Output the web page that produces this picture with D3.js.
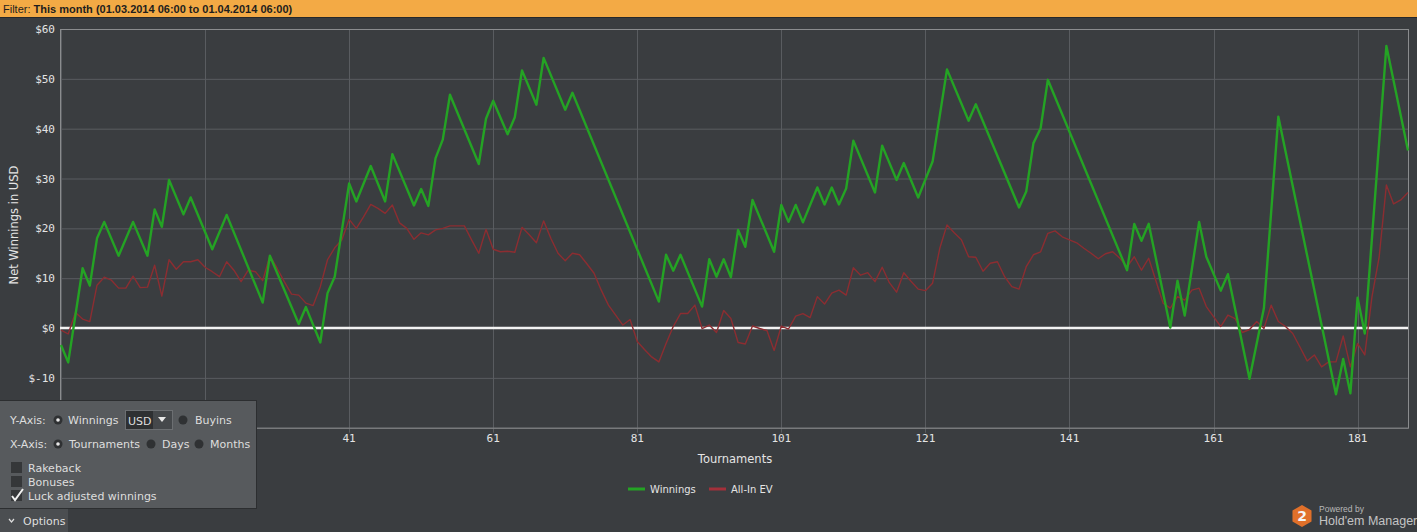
<!DOCTYPE html>
<html>
<head>
<meta charset="utf-8">
<script src="https://cdn.jsdelivr.net/npm/d3@7"></script>
<style>
  body { margin: 0; background: #3a3d40; overflow: hidden; }
  svg { display: block; }
</style>
</head>
<body>
<svg id="chart"></svg>
<script>
// Data
// Winnings: only the corner points of the green line (tournament, USD)
const winTournament = [1, 2, 4, 5, 6, 7, 9, 11, 13, 14, 15, 16, 18, 19, 22, 24, 29, 30, 34, 35, 37, 38, 39,
  41, 42, 44, 46, 47, 50, 51, 52, 53, 54, 55, 59, 60, 61, 63, 64, 65, 67, 68, 71, 72,
  84, 85, 86, 87, 90, 91, 92, 93, 94, 95, 96, 97, 100, 101, 102, 103, 104, 106, 107, 108, 109, 110,
  111, 114, 115, 117, 118, 120, 122, 124, 127, 128, 134, 135, 136, 137, 138,
  149, 150, 151, 152, 155, 156, 157, 159, 160, 162, 163, 166, 168, 170,
  178, 179, 180, 181, 182, 185, 188];
const winValue = [-3.4, -6.9, 12.0, 8.5, 18.0, 21.3, 14.5, 21.3, 14.5, 23.8, 20.3, 29.7, 22.8, 26.2, 15.8, 22.7, 5.1, 14.5, 0.8, 4.2, -2.9, 7.0, 10.3,
  29.0, 25.4, 32.5, 25.4, 34.9, 24.6, 27.9, 24.5, 34.1, 37.8, 46.8, 32.9, 42.0, 45.6, 38.9, 42.3, 51.7, 44.8, 54.2, 43.8, 47.2,
  5.3, 14.7, 11.5, 14.7, 4.3, 13.8, 10.3, 13.8, 10.2, 19.7, 16.3, 25.7, 15.3, 24.7, 21.3, 24.7, 21.2, 28.2, 24.8, 28.2, 24.8, 28.0,
  37.6, 27.2, 36.6, 29.7, 33.1, 26.2, 33.4, 51.9, 41.6, 44.9, 24.2, 27.4, 37.1, 40.1, 49.8,
  11.6, 20.9, 17.5, 20.9, 0.1, 9.5, 2.5, 21.3, 14.3, 7.5, 10.8, -10.2, 4.0, 42.4,
  -13.3, -6.2, -13.1, 6.1, -1.1, 56.6, 35.6];

// All-In EV, one value per tournament 1..188
const allInEV = [
  -0.4, -1.2, 3.1, 1.8, 1.3, 8.6, 10.2, 9.6, 8.0, 8.0,
  10.4, 8.1, 8.2, 12.6, 6.4, 13.7, 11.8, 13.3, 13.3, 13.7,
  12.2, 11.3, 10.3, 13.3, 11.6, 9.3, 11.6, 11.3, 9.5, 14.5,
  12.0, 9.3, 6.8, 6.6, 5.0, 4.5, 8.3, 13.7, 16.1, 17.7,
  21.8, 20.0, 22.3, 24.8, 24.0, 23.0, 24.7, 21.1, 20.0, 17.8,
  19.1, 18.7, 19.7, 20.0, 20.5, 20.5, 20.5, 17.7, 15.0, 19.8,
  15.8, 15.3, 15.4, 15.2, 20.2, 18.7, 17.1, 21.5, 18.0, 15.0,
  13.5, 15.0, 14.7, 12.9, 11.0, 7.6, 4.6, 2.6, 0.6, 1.7,
  -2.7, -4.3, -5.8, -6.8, -3.1, 0.3, 2.9, 2.9, 4.6, -0.1,
  0.6, -0.9, 3.5, 1.9, -2.9, -3.2, 0.4, -0.1, -0.5, -4.5,
  0.4, -0.2, 2.4, 2.9, 2.1, 6.3, 4.8, 7.0, 7.6, 6.6,
  12.1, 10.6, 11.1, 9.3, 12.2, 9.1, 7.2, 11.1, 9.4, 7.8,
  7.5, 9.0, 16.0, 20.7, 19.1, 17.7, 14.3, 14.2, 11.4, 13.0,
  13.3, 10.3, 8.3, 7.8, 12.3, 14.7, 15.3, 19.0, 19.5, 18.3,
  17.7, 17.1, 16.0, 15.0, 13.9, 14.9, 15.3, 14.0, 12.3, 14.3,
  11.6, 14.0, 9.5, 5.0, 4.0, 6.3, 5.6, 7.6, 8.0, 4.3,
  2.3, 0.3, 2.6, 1.9, -0.9, -0.3, 1.3, -0.1, 4.6, 1.3,
  0.3, -1.1, -3.8, -6.6, -5.4, -7.8, -6.8, -6.8, -1.6, -7.8,
  -3.1, -5.4, 6.3, 14.3, 28.7, 24.9, 25.7, 27.2];

const xTicks = [1, 21, 41, 61, 81, 101, 121, 141, 161, 181];
const yTicks = [-20, -10, 0, 10, 20, 30, 40, 50, 60];
const seriesNames = ["Winnings", "All-In EV"];
const seriesColors = ["#24a324", "#a3303a"];

const w = 1417, h = 532;
const svg = d3.select("#chart").attr("width", w).attr("height", h);

// background
svg.append("rect").attr("width", w).attr("height", h).attr("fill", "#3a3d40");

// filter bar
svg.append("rect").attr("width", w).attr("height", 17).attr("fill", "#f3aa45");
svg.append("rect").attr("y", 17).attr("width", w).attr("height", 1).attr("fill", "#26282a");
const filt = svg.append("text").attr("x", 3).attr("y", 12.5)
  .attr("font-family", "Liberation Sans, sans-serif").attr("font-size", 11).attr("fill", "#1e1e1e");
filt.append("tspan").text("Filter: ");
filt.append("tspan").attr("font-weight", "bold").text("This month (01.03.2014 06:00 to 01.04.2014 06:00)");

// scales
const x = d3.scaleLinear().domain([1, 188]).range([61, 1408]);
const y = d3.scaleLinear().domain([-20, 60]).range([427.7, 29]);
const left = 60, right = 1408;

// options panel covers the bottom-left corner of the plot
const panelW = 257, panelTop = 400;
const hiddenByPanel = (px, py) => px < panelW && py > panelTop;

// grid
const grid = svg.append("g");
grid.selectAll(".gy").data(yTicks).enter().append("line")
  .attr("x1", left).attr("x2", right)
  .attr("y1", d => y(d) + 0.5).attr("y2", d => y(d) + 0.5)
  .attr("stroke", "#595c60").attr("stroke-width", 1);
grid.selectAll(".gx").data(xTicks).enter().append("line")
  .attr("x1", d => Math.round(x(d)) + 0.5).attr("x2", d => Math.round(x(d)) + 0.5)
  .attr("y1", y(60)).attr("y2", y(-20) + 5)
  .attr("stroke", "#595c60").attr("stroke-width", 1);

// frame
svg.append("rect").attr("x", left + 0.5).attr("y", y(60) + 0.5)
  .attr("width", right - left).attr("height", y(-20) - y(60))
  .attr("fill", "none").attr("stroke", "#8a8c8e").attr("stroke-width", 1);

// zero line
svg.append("line").attr("x1", left).attr("x2", right)
  .attr("y1", y(0)).attr("y2", y(0))
  .attr("stroke", "#f2f2f2").attr("stroke-width", 2.5);

// y labels (the ones under the panel are not drawn)
svg.append("g").selectAll("text").data(yTicks.filter(d => !hiddenByPanel(40, y(d))))
  .enter().append("text")
  .attr("x", 55).attr("y", d => y(d) + 4)
  .attr("text-anchor", "end")
  .attr("font-family", "DejaVu Sans Mono, monospace").attr("font-size", 11)
  .attr("fill", "#e4e4e4")
  .text(d => "$" + d);

// x labels
svg.append("g").selectAll("text").data(xTicks.filter(d => !hiddenByPanel(x(d) + 10, 438)))
  .enter().append("text")
  .attr("x", d => x(d)).attr("y", 442)
  .attr("text-anchor", "middle")
  .attr("font-family", "DejaVu Sans Mono, monospace").attr("font-size", 11)
  .attr("fill", "#e4e4e4")
  .text(d => d);

// axis titles
svg.append("text").attr("x", 735).attr("y", 463).attr("text-anchor", "middle")
  .attr("font-family", "DejaVu Sans, sans-serif").attr("font-size", 11.5)
  .attr("fill", "#e4e4e4").text("Tournaments");
svg.append("text").attr("transform", "translate(18,225) rotate(-90)")
  .attr("text-anchor", "middle")
  .attr("font-family", "DejaVu Sans, sans-serif").attr("font-size", 11.5)
  .attr("fill", "#e4e4e4").text("Net Winnings in USD");

// lines
const evLine = d3.line().x((d, i) => x(i + 1)).y(d => y(d));
svg.append("path").datum(allInEV).attr("d", evLine)
  .attr("fill", "none").attr("stroke", "#8c2d31").attr("stroke-width", 1.4)
  .attr("stroke-linejoin", "round");

const winLine = d3.line().x(d => x(d[0])).y(d => y(d[1]));
svg.append("path").datum(d3.zip(winTournament, winValue)).attr("d", winLine)
  .attr("fill", "none").attr("stroke", seriesColors[0]).attr("stroke-width", 2.4)
  .attr("stroke-linejoin", "round");

// legend
const legend = svg.append("g").attr("transform", "translate(628,489)");
const legX = [0, 81];
seriesNames.forEach((name, i) => {
  legend.append("line").attr("x1", legX[i]).attr("x2", legX[i] + 17)
    .attr("y1", 0).attr("y2", 0)
    .attr("stroke", seriesColors[i]).attr("stroke-width", 3);
  legend.append("text").attr("x", legX[i] + 22).attr("y", 4)
    .attr("font-family", "DejaVu Sans, sans-serif").attr("font-size", 10)
    .attr("fill", "#e4e4e4").text(name);
});

// options panel
const panel = svg.append("g");
panel.append("rect").attr("x", -1).attr("y", panelTop + 0.5).attr("width", panelW + 0.5).attr("height", 108)
  .attr("fill", "#575a5d").attr("stroke", "#2c2e30");
panel.append("rect").attr("x", 0).attr("y", 509).attr("width", 68).attr("height", 23)
  .attr("fill", "#4b4e51");
const font = "DejaVu Sans, sans-serif";
function label(tx, ty, s) {
  panel.append("text").attr("x", tx).attr("y", ty).attr("font-family", font)
    .attr("font-size", 11).attr("fill", "#dedede").text(s);
}
function radio(cx, cy, on) {
  panel.append("circle").attr("cx", cx).attr("cy", cy).attr("r", 4.5).attr("fill", "#2f3133");
  if (on) panel.append("circle").attr("cx", cx).attr("cy", cy).attr("r", 1.8).attr("fill", "#e8e8e8");
}
function checkbox(bx, by, on) {
  panel.append("rect").attr("x", bx).attr("y", by).attr("width", 11).attr("height", 11)
    .attr("fill", "#353739");
  if (on) panel.append("path").attr("d", `M${bx + 1},${by + 6} L${bx + 4},${by + 10} L${bx + 12},${by - 1}`)
    .attr("fill", "none").attr("stroke", "#f0f0f0").attr("stroke-width", 2);
}
label(10, 424, "Y-Axis:");
radio(58, 420, true);
label(68, 424, "Winnings");
panel.append("rect").attr("x", 125.5).attr("y", 410.5).attr("width", 47).attr("height", 19)
  .attr("fill", "#2e3032").attr("stroke", "#6c6f72");
panel.append("rect").attr("x", 153).attr("y", 411).attr("width", 19).attr("height", 18).attr("fill", "#45484b");
panel.append("path").attr("d", "M158,417 L166,417 L162,422 Z").attr("fill", "#e8e8e8");
label(128, 425, "USD");
radio(183, 420, false);
label(195, 424, "Buyins");
label(10, 448, "X-Axis:");
radio(58, 444, true);
label(69, 448, "Tournaments");
radio(151, 444, false);
label(162, 448, "Days");
radio(199, 444, false);
label(210, 448, "Months");
checkbox(11, 462, false);
label(28, 472, "Rakeback");
checkbox(11, 476, false);
label(28, 486, "Bonuses");
checkbox(11, 490, true);
label(28, 500, "Luck adjusted winnings");
panel.append("path").attr("d", "M9,519 L11.5,522 L14,519").attr("fill", "none")
  .attr("stroke", "#dedede").attr("stroke-width", 1.2);
label(23, 525, "Options");

// powered by logo
const logo = svg.append("g").attr("transform", "translate(1302,516)");
const hex = d3.range(6).map(k => {
  const a = Math.PI / 3 * k + Math.PI / 6;
  return [11 * Math.cos(a), 11 * Math.sin(a)];
});
logo.append("path").attr("d", "M" + hex.join("L") + "Z").attr("fill", "#e0702a");
logo.append("text").attr("y", 5).attr("text-anchor", "middle")
  .attr("font-family", "DejaVu Sans, sans-serif").attr("font-weight", "bold")
  .attr("font-size", 14).attr("fill", "#f4f4f4").text("2");
svg.append("text").attr("x", 1319).attr("y", 512)
  .attr("font-family", "Liberation Sans, sans-serif").attr("font-size", 8.5)
  .attr("fill", "#b8b8b8").text("Powered by");
svg.append("text").attr("x", 1319).attr("y", 525)
  .attr("font-family", "Liberation Sans, sans-serif").attr("font-size", 12.5)
  .attr("fill", "#c4c4c4").text("Hold'em Manager");
</script>
</body>
</html>
